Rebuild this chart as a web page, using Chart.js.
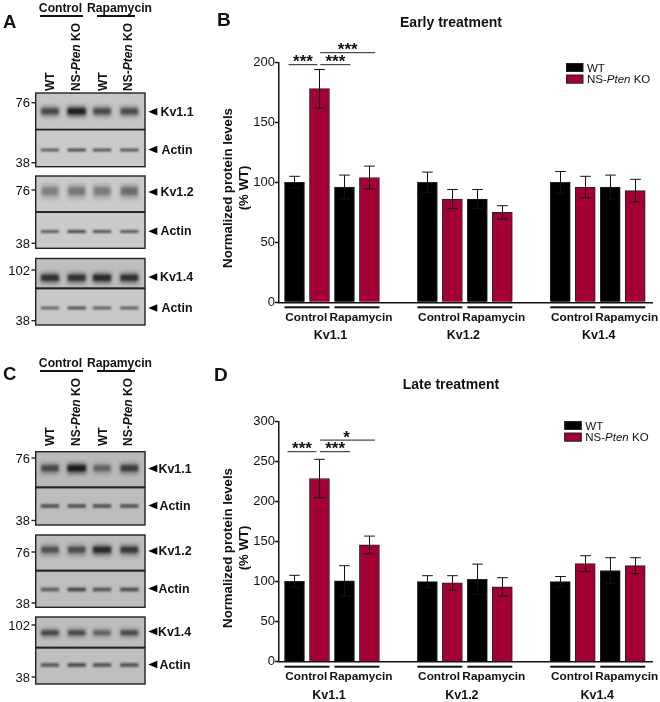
<!DOCTYPE html>
<html><head><meta charset="utf-8">
<script src="https://cdn.jsdelivr.net/npm/chart.js@4"></script>
<style>
html,body{margin:0;padding:0;background:#fff;width:660px;height:702px;overflow:hidden;font-family:"Liberation Sans",Arial,sans-serif;color:#111}
#page{position:absolute;left:0;top:0;width:660px;height:702px;filter:blur(0.35px)}
canvas{position:absolute}
.t{position:absolute;white-space:nowrap;line-height:1}
.b{font-weight:bold}
.rot{transform-origin:0 0;transform:rotate(-90deg)}
.line{position:absolute;height:2px;background:#111}
</style></head><body><div id="page">
<canvas id="blots" width="210" height="702" style="left:0;top:0"></canvas>
<div id="wrapB" style="position:absolute;left:210px;top:0;width:450px;height:350px"><canvas id="chartB"></canvas></div>
<div id="wrapD" style="position:absolute;left:210px;top:360px;width:450px;height:342px"><canvas id="chartD"></canvas></div>
<div id="labels"></div></div>
<script>
// ---------- data ----------
const proteins = ['Kv1.1', 'Kv1.2', 'Kv1.4'];
const treatments = ['Control', 'Rapamycin'];
const seriesNames = ['WT', 'NS-Pten KO'];
const yTitle = ['Normalized protein levels', '(% WT)'];

const earlyWT    = [100, 96, 100, 86, 100, 96];
const earlyWTErr = [5, 10, 8.5, 8, 9, 10];
const earlyKO    = [178, 104, 86, 75, 96, 93];
const earlyKOErr = [16, 9.5, 8, 5.5, 9, 9.5];

const lateWT    = [100.5, 101, 100, 103, 100, 114];
const lateWTErr = [7.5, 19, 7.5, 19, 6.5, 16];
const lateKO    = [229, 146, 98.5, 93.5, 122.5, 120];
const lateKOErr = [24, 11, 9, 11.5, 10, 10];

const earlyTicks = [0, 50, 100, 150, 200];
const lateTicks  = [0, 50, 100, 150, 200, 250, 300];

// significance: bar slot from, bar slot to, level on y axis, label
const earlySig = [[-0.24, 0.92, 198, '***'], [1.03, 2.24, 198, '***'], [1.03, 3.23, 208, '***']];
const lateSig  = [[-0.28, 0.88, 262.5, '***'], [1.02, 2.23, 262.5, '***'], [1.02, 3.22, 277, '*']];

// western blot band densities: one row per blot strip, one value per lane
const blotA = [[0.62, 0.95, 0.6, 0.6], [0.55, 0.65, 0.6, 0.6], [0.32, 0.36, 0.34, 0.42], [0.55, 0.65, 0.6, 0.58], [0.78, 0.78, 0.85, 0.78], [0.5, 0.62, 0.55, 0.55]];
const blotC = [[0.6, 0.98, 0.42, 0.68], [0.55, 0.55, 0.55, 0.55], [0.55, 0.58, 0.85, 0.72], [0.5, 0.62, 0.55, 0.6], [0.62, 0.6, 0.45, 0.6], [0.52, 0.58, 0.55, 0.55]];

// ---------- charts ----------
const GROUP_STEP = 5.32;                 // distance between protein groups, in bar slots
const slot = (g, t, s) => g * GROUP_STEP + t * 2 + s;
const F = '"Liberation Sans", Arial, sans-serif';
const CRIMSON = '#a50034';

function pts(vals, s) { return vals.map((y, i) => ({ x: slot(Math.floor(i / 2), i % 2, s), y })); }

const overlay = {
  id: 'overlay',
  afterDatasetsDraw(chart, args, o) {
    const { ctx, scales: { x, y }, chartArea: a } = chart;
    ctx.save();
    // error bars
    chart.data.datasets.forEach((ds, di) => {
      const errs = o.errs[di];
      ds.data.forEach((p, i) => {
        const cx = Math.round(x.getPixelForValue(p.x)) + 0.5;
        const hi = y.getPixelForValue(p.y + errs[i]), lo = y.getPixelForValue(p.y - errs[i]);
        ctx.strokeStyle = '#111'; ctx.lineWidth = 1;
        ctx.beginPath();
        ctx.moveTo(cx, hi); ctx.lineTo(cx, lo);
        ctx.moveTo(cx - 5.3, hi); ctx.lineTo(cx + 5.3, hi);
        ctx.moveTo(cx - 5.3, lo); ctx.lineTo(cx + 5.3, lo);
        ctx.stroke();
      });
    });
    // significance
    ctx.textAlign = 'center'; ctx.textBaseline = 'alphabetic';
    o.sig.forEach(([a1, b1, lv, s]) => {
      const x0 = x.getPixelForValue(a1), x1 = x.getPixelForValue(b1), py = y.getPixelForValue(lv);
      ctx.strokeStyle = '#222'; ctx.lineWidth = 1;
      ctx.beginPath(); ctx.moveTo(x0, py); ctx.lineTo(x1, py); ctx.stroke();
      ctx.fillStyle = '#111'; ctx.font = 'bold 17px ' + F;
      ctx.fillText(s, (x0 + x1) / 2 + (s.length === 1 ? -1 : 0), py + 2.5);
    });
    // treatment brackets, treatment and protein labels
    ctx.fillStyle = '#111';
    proteins.forEach((name, g) => {
      treatments.forEach((tr, t) => {
        const x0 = x.getPixelForValue(slot(g, t, 0)) - 10, x1 = x.getPixelForValue(slot(g, t, 1)) + 10;
        ctx.fillStyle = '#111';
        ctx.fillRect(x0, a.bottom + 4, x1 - x0, 2);
        ctx.font = 'bold 11.8px ' + F;
        ctx.fillText(tr, x.getPixelForValue(slot(g, t, 0)) + (t === 0 ? 11.7 : 16.5), a.bottom + 18.5);
      });
      ctx.font = 'bold 12.5px ' + F;
      ctx.fillText(name, x.getPixelForValue(slot(g, 0, 0)) + o.protOff[g], a.bottom + 37);
    });
    // title
    ctx.font = 'bold 14px ' + F;
    ctx.fillText(o.title, 241, o.titleY);
    // y axis title
    ctx.font = 'bold 13.2px ' + F;
    yTitle.forEach((s, i) => {
      ctx.save();
      ctx.translate(21.5 + i * 16, 188);
      ctx.rotate(-Math.PI / 2);
      ctx.fillText(s, 0, 0);
      ctx.restore();
    });
    // legend
    const lx = o.legX;
    [['#000', 0], [CRIMSON, 1]].forEach(([c, i]) => {
      const ly = a.top + o.legY + i * 11.7;
      ctx.fillStyle = c; ctx.fillRect(lx, ly, 17, 8.5);
      ctx.strokeStyle = '#222'; ctx.lineWidth = 1; ctx.strokeRect(lx + 0.5, ly + 0.5, 16.5, 8);
    });
    ctx.fillStyle = '#111'; ctx.textAlign = 'left';
    const ty = a.top + o.legY + 8.5, tx = lx + 21;
    ctx.font = '11.5px ' + F; ctx.fillText('WT', tx, ty);
    let cur = tx, by = ty + 11.7;
    [['NS-', ''], ['Pten', 'italic '], [' KO', '']].forEach(([s, st]) => {
      ctx.font = st + '11.5px ' + F; ctx.fillText(s, cur, by); cur += ctx.measureText(s).width;
    });
    ctx.restore();
  }
};

function barChart(id, wt, wtE, ko, koE, tickVals, max, sig, title, titleY, top, bottomGap, legX, legY, protOff) {
  const stepY = tickVals[1] - tickVals[0];
  return new Chart(document.getElementById(id), {
    type: 'bar',
    data: {
      datasets: [
        { label: seriesNames[0], data: pts(wt, 0), backgroundColor: '#000', borderColor: '#222', borderWidth: 1, barThickness: 20, grouped: false },
        { label: seriesNames[1], data: pts(ko, 1), backgroundColor: CRIMSON, borderColor: '#222', borderWidth: 1, barThickness: 20, grouped: false }
      ]
    },
    options: {
      responsive: true, maintainAspectRatio: false, animation: false,
      layout: { padding: { left: 0, right: 7.3, top: top, bottom: 0 } },
      plugins: {
        legend: { display: false }, tooltip: { enabled: false },
        overlay: { errs: [wtE, koE], sig, title, titleY, legX, legY, protOff }
      },
      scales: {
        x: {
          type: 'linear', min: -0.64, max: 14.34, offset: false,
          grid: { display: false }, border: { display: true, color: '#111', width: 1.5 },
          ticks: { display: false },
          afterFit(s) { s.height = bottomGap; }
        },
        y: {
          min: 0, max, offset: false,
          grid: { drawOnChartArea: false, drawTicks: true, tickLength: 3.5, tickColor: '#111', tickWidth: 1.5 },
          border: { display: true, color: '#111', width: 1.5 },
          afterBuildTicks(s) { s.ticks = tickVals.map(value => ({ value })); },
          ticks: { stepSize: stepY, color: '#111', padding: 0, font: { family: F, size: 13 } },
          afterFit(s) { s.width = 68.5; }
        }
      }
    },
    plugins: [overlay]
  });
}
barChart('chartB', earlyWT, earlyWTErr, earlyKO, earlyKOErr, earlyTicks, 200, earlySig, 'Early treatment', 27, 62.3, 47.7, 356, 0.7, [36, 36, 38.5]);
barChart('chartD', lateWT, lateWTErr, lateKO, lateKOErr, lateTicks, 300, lateSig, 'Late treatment', 29, 61.7, 40.3, 354.3, -0.7, [34.5, 34.5, 37]);

// ---------- left panels: blots ----------
const cv = document.getElementById('blots'), c = cv.getContext('2d');
const FRAME_X0 = 36, FRAME_X1 = 145;
function strip(y0, y1, bandY, dens, tall, lanes, jit, bg) {
  c.save();
  c.beginPath(); c.rect(FRAME_X0, y0, FRAME_X1 - FRAME_X0, y1 - y0); c.clip();
  c.fillStyle = bg; c.fillRect(FRAME_X0, y0, FRAME_X1 - FRAME_X0, y1 - y0);
  dens.forEach((d, i) => {
    const cx = lanes[i], w = 17 + d * 2;
    if (tall) {
      c.filter = 'blur(2px)';
      c.fillStyle = `rgba(20,20,20,${d * 0.6})`;
      c.fillRect(cx - w / 2, bandY - 5.5 * tall, w, 11 * tall);
      c.filter = 'blur(1.1px)';
      c.fillStyle = `rgba(10,10,10,${d * 0.8})`;
      c.fillRect(cx - w / 2 + 0.5, bandY - 3 * tall, w - 1, 5.5 * tall);
    } else {
      c.filter = 'blur(0.8px)';
      c.fillStyle = `rgba(20,20,20,${d * 1.15})`;
      c.fillRect(cx - w / 2, bandY - 1.4, w, 2.8 + jit);
    }
  });
  c.filter = 'none';
  c.restore();
  c.strokeStyle = '#222'; c.lineWidth = 1.4;
  c.strokeRect(FRAME_X0 - 0.3, y0, FRAME_X1 - FRAME_X0 + 0.3, y1 - y0);
}
const lanesAll = [50, 76.7, 102, 129.3];
[[93, 129.4, 111.5, 1, '#c6c6c6'], [129.8, 166.7, 150, 0, '#cacaca'], [176, 211.8, 191.5, 1.35, '#cbcbcb'], [212.3, 248.3, 231.5, 0, '#cacaca'], [258.5, 288, 278, 1, '#bfbfbf'], [288.7, 325, 308, 0, '#c8c8c8']]
  .forEach((r, i) => strip(r[0], r[1], r[2], blotA[i], r[3], lanesAll, 0, r[4]));
[[451.7, 487, 468.5, 1, '#bababa'], [487.7, 525, 505.5, 0, '#bdbdbd'], [535, 570.3, 550, 1, '#bebebe'], [571, 607.3, 589, 0, '#bebebe'], [617, 647.3, 633, 0.8, '#bebebe'], [648, 684, 664.5, 0, '#bfbfbf']]
  .forEach((r, i) => strip(r[0], r[1], r[2], blotC[i], r[3], lanesAll, 1, r[4]));

// small tick marks and arrowheads on the blots
function tick(y) { c.fillStyle = '#222'; c.fillRect(31.5, y - 0.7, 4.5, 1.4); }
function arrow(x, y) { c.fillStyle = '#000'; c.beginPath(); c.moveTo(x, y); c.lineTo(x + 9, y - 3.7); c.lineTo(x + 9, y + 3.7); c.closePath(); c.fill(); }

// text
const L = document.getElementById('labels');
function txt(s, x, y, size, cls, center) {
  const d = document.createElement('div');
  d.className = 't ' + (cls || '');
  d.innerHTML = s; d.style.left = x + 'px'; d.style.top = y + 'px'; d.style.fontSize = size + 'px';
  if (center) d.style.transform = 'translateX(-50%)';
  L.appendChild(d); return d;
}
function rule(x0, x1, y) { const d = document.createElement('div'); d.className = 'line'; d.style.cssText = `left:${x0}px;width:${x1 - x0}px;top:${y}px`; L.appendChild(d); }
function vert(s, cx, bottom) { return txt(s, cx - 5.5, bottom, 12, 'b rot'); }
function leftPanel(letter, letterY, top, mw, bandLabels) {
  txt(letter, 3, letterY, 18.5, 'b');
  txt(treatments[0], 60.5, top, 12.2, 'b', true);
  txt(treatments[1], 119.5, top, 12.2, 'b', true);
  rule(39.5, 82.5, top + 13); rule(97, 135, top + 13);
  const base = top + 88.5;
  [[49.5, 'WT'], [75.5, 'NS-<i>Pten</i> KO'], [102.5, 'WT'], [127.5, 'NS-<i>Pten</i> KO']].forEach(([cx, s]) => vert(s, cx, base));
  mw.forEach(([v, y]) => { const d = txt(v, 0, y - 6.5, 13); d.style.left = 'auto'; d.style.right = (660 - 30) + 'px'; tick(y); });
  bandLabels.forEach(([s, y, x]) => { arrow(148.3, y); txt(s, x, y - 6, 12.4, 'b'); });
}
leftPanel('A', 12.5, 2, [['76', 102.7], ['38', 162.7], ['76', 190], ['38', 243.3], ['102', 270], ['38', 320.7]],
  [['Kv1.1', 111.7, 160.5], ['Actin', 149.5, 161.5], ['Kv1.2', 192, 160.5], ['Actin', 231.3, 160.5], ['Kv1.4', 277, 160], ['Actin', 308, 161.5]]);
leftPanel('C', 364.5, 357, [['76', 458], ['38', 520.5], ['76', 552], ['38', 603], ['102', 625], ['38', 677]],
  [['Kv1.1', 468.5, 158.5], ['Actin', 505.5, 159.5], ['Kv1.2', 551, 158.5], ['Actin', 588.5, 158.5], ['Kv1.4', 631.5, 158], ['Actin', 664.5, 159.5]]);
txt('B', 217, 10, 19, 'b');
txt('D', 214, 365, 19, 'b');
</script>
</body></html>
